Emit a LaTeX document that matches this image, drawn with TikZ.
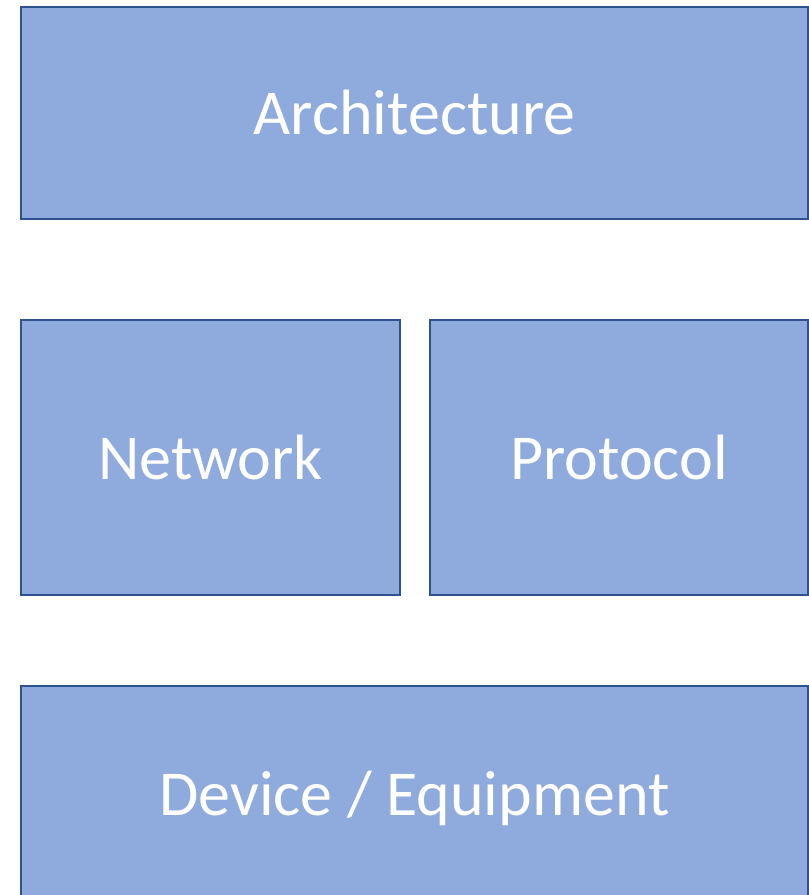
\documentclass[tikz,border=0pt]{standalone}
\usepackage{fontspec}
\setmainfont{Carlito}
\usetikzlibrary{positioning}
\definecolor{boxfill}{HTML}{8FAADC}
\definecolor{boxline}{HTML}{2F528F}

\begin{document}
\begin{tikzpicture}[
x=1pt, y=1pt,
layer/.style={draw=boxline, line width=2.2pt, fill=boxfill, inner sep=0pt, align=center, text=white, font=\fontsize{64}{72}\selectfont},
wide/.style={layer, minimum width=787pt},
half/.style={layer, minimum height=275pt}
]
\useasboundingbox (0,0) rectangle (809,895);
\clip (0,0) rectangle (809,895);
\node[wide, minimum height=212pt] (arch) at (414.5,782) {Architecture};
\node[half, minimum width=379pt] (network) at (210.5,437.5) {Network};
\node[half, minimum width=378pt] (protocol) at (619,437.5) {Protocol};
\node[wide, minimum height=224pt] (device) at (414.5,97) {Device / Equipment};
\end{tikzpicture}
\end{document}
